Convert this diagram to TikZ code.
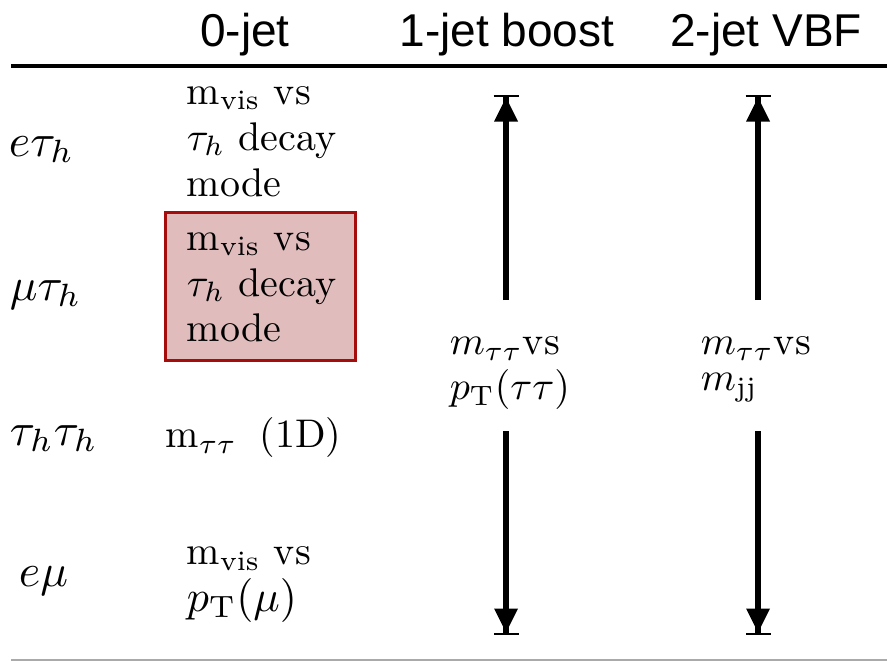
\documentclass[tikz,border=0pt]{standalone}
\usepackage{fontspec}
\newfontfamily\hdrfont{Liberation Sans}
\usetikzlibrary{arrows.meta}
\definecolor{boxfill}{RGB}{225,188,189}
\definecolor{boxline}{RGB}{165,12,12}
\definecolor{ruleg}{RGB}{170,170,170}
\tikzset{
  hdr/.style={font=\hdrfont\fontsize{46}{50}\selectfont, anchor=base, inner sep=0pt},
  rowlab/.style={font=\fontsize{10}{12}\selectfont, anchor=base west, inner sep=0pt, scale=4.6},
  cell/.style={font=\fontsize{10}{12}\selectfont, anchor=base west, inner sep=0pt, scale=4.0},
  redbox/.style={draw=boxline, fill=boxfill, line width=3pt, minimum width=190pt, minimum height=148pt, inner sep=0pt},
  arr/.style={line width=5.5pt, -{Triangle[width=24pt,length=24pt,line width=0pt,sep=0pt]Bar[width=25pt,line width=2.5pt]}},
}
\begin{document}
\begin{tikzpicture}[x=1pt,y=-1pt]
\useasboundingbox (0,0) rectangle (887,661);
% headers
\node[hdr] (h0) at (245,47) {0-jet};
\node[hdr] (h1) at (507,47) {1-jet boost};
\node[hdr] (h2) at (766,47) {2-jet VBF};
\coordinate (tl) at (11,66);
\coordinate (tr) at (887,66);
\draw[line width=4.5pt] (tl) -- (tr);
\coordinate (bl) at (11,659.5);
\coordinate (br) at (887,659.5);
\draw[ruleg, line width=2pt] (bl) -- (br);
% row labels
\node[rowlab] (r1) at (8,156) {$e\tau_h$};
\node[rowlab] (r2) at (9,300) {$\mu\tau_h$};
\node[rowlab] (r3) at (9,445) {$\tau_h\tau_h$};
\node[rowlab] (r4) at (18,586) {$e\mu$};
% 0-jet column
\node[cell] (c1a) at (186,104) {$\mathrm{m_{vis}}$ vs};
\node[cell] (c1b) at (186,150) {$\tau_h$ decay};
\node[cell] (c1c) at (186,196) {mode};
\node[redbox] (box) at (260,286) {};
\node[cell] (c2a) at (186,250) {$\mathrm{m_{vis}}$ vs};
\node[cell] (c2b) at (186,296) {$\tau_h$ decay};
\node[cell] (c2c) at (186,341) {mode};
\node[cell] (c3) at (165,447) {$\mathrm{m}_{\tau\tau}$\hspace{5.6pt}(1D)};
\node[cell] (c4a) at (186,564) {$\mathrm{m_{vis}}$ vs};
\node[cell, scale=1.1] (c4b) at (186,611) {$p_\mathrm{T}(\mu)$};
% boosted / VBF labels
\node[cell] (b1a) at (449,354) {$m_{\tau\tau}$vs};
\node[cell] (b1b) at (449,399) {$p_\mathrm{T}(\tau\tau)$};
\node[cell] (v1a) at (700,354) {$m_{\tau\tau}$vs};
\node[cell] (v1b) at (700,390) {$m_\mathrm{jj}$};
% arrows
\coordinate (a1s) at (506,300);
\coordinate (a1t) at (506,95);
\coordinate (a1u) at (506,431);
\coordinate (a1b) at (506,635);
\coordinate (a2s) at (758,300);
\coordinate (a2t) at (758,95);
\coordinate (a2u) at (758,431);
\coordinate (a2b) at (758,635);
\draw[arr] (a1s) -- (a1t);
\draw[arr] (a1u) -- (a1b);
\draw[arr] (a2s) -- (a2t);
\draw[arr] (a2u) -- (a2b);
\end{tikzpicture}
\end{document}
